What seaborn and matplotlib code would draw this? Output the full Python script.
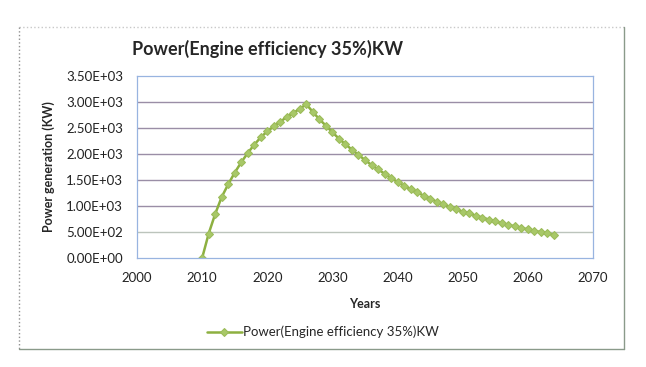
import matplotlib
matplotlib.use("Agg")
import matplotlib.pyplot as plt
import seaborn as sns
import pandas as pd
from matplotlib.ticker import FuncFormatter

years = list(range(2010, 2065))
power_kw = [
    0, 468, 846, 1173, 1417, 1641, 1840, 2019, 2179, 2320,
    2436, 2532, 2622, 2712, 2788, 2872, 2955, 2808, 2667, 2545,
    2417, 2295, 2186, 2083, 1981, 1885, 1788, 1705, 1622, 1538,
    1462, 1391, 1321, 1263, 1199, 1141, 1083, 1032, 981, 936,
    891, 860, 815, 778, 740, 705, 670, 638, 607, 578,
    550, 523, 497, 473, 450,
]
series_name = "Power(Engine efficiency 35%)KW"
x_ticks = [2000, 2010, 2020, 2030, 2040, 2050, 2060, 2070]
y_ticks = [0, 500, 1000, 1500, 2000, 2500, 3000, 3500]

df = pd.DataFrame({"Years": years, "power": power_kw})

sns.set_style("white")
plt.rcParams["font.family"] = ["Lato", "DejaVu Sans"]

fig = plt.figure(figsize=(6.46, 3.67), dpi=100)
ax = fig.add_axes([137 / 646, 1 - 258 / 367, 456 / 646, 182 / 367])

# outer chart frame
frame_kw = dict(transform=fig.transFigure, clip_on=False, lw=1)
fig.add_artist(plt.Line2D([19 / 646, 624 / 646], [1 - 27 / 367] * 2, color="#c8c8c8", ls=":", **frame_kw))
fig.add_artist(plt.Line2D([19 / 646] * 2, [1 - 27 / 367, 1 - 349 / 367], color="#909090", ls=":", **frame_kw))
fig.add_artist(plt.Line2D([624 / 646] * 2, [1 - 27 / 367, 1 - 349 / 367], color="#8a9a8a", **frame_kw))
fig.add_artist(plt.Line2D([19 / 646, 624 / 646], [1 - 349 / 367] * 2, color="#8a9a8a", **frame_kw))

grid_colors = ["#bcc4bc", "#9a8ea6", "#9a8ea6", "#9a8ea6", "#9a8ea6", "#9a8ea6"]
for yv, c in zip(y_ticks[1:-1], grid_colors):
    ax.axhline(yv, color=c, lw=1, zorder=0)

sns.lineplot(data=df, x="Years", y="power", ax=ax, color="#8db040", lw=1.8,
             marker="D", markersize=4.2, markeredgecolor="#9bbb59", markerfacecolor="#a8c868",
             label=series_name)

ax.set_xlim(2000, 2070)
ax.set_ylim(0, 3500)
ax.set_xticks(x_ticks)
ax.set_yticks(y_ticks)
ax.yaxis.set_major_formatter(FuncFormatter(lambda v, p: f"{v:.2E}"))
ax.tick_params(axis="both", labelsize=9.5, length=0, colors="#222222")
ax.tick_params(axis="x", pad=10)
ax.tick_params(axis="y", pad=10)
for s in ax.spines.values():
    s.set_color("#98b4e0")
    s.set_linewidth(0.9)

ax.set_xlabel("Years", fontsize=9, fontweight="bold", labelpad=10)
ax.set_ylabel("Power generation (KW)", fontsize=9, fontweight="bold", labelpad=8)
fig.text(268 / 646, 1 - 49 / 367, "Power(Engine efficiency 35%)KW", ha="center", va="center",
         fontsize=13, fontweight="bold")

leg = ax.legend(loc="center", bbox_to_anchor=(323 / 646, 1 - 332 / 367), bbox_transform=fig.transFigure,
                frameon=False, fontsize=9.5, handlelength=2.6, handletextpad=0.1)

fig.savefig("out.png", dpi=100)
